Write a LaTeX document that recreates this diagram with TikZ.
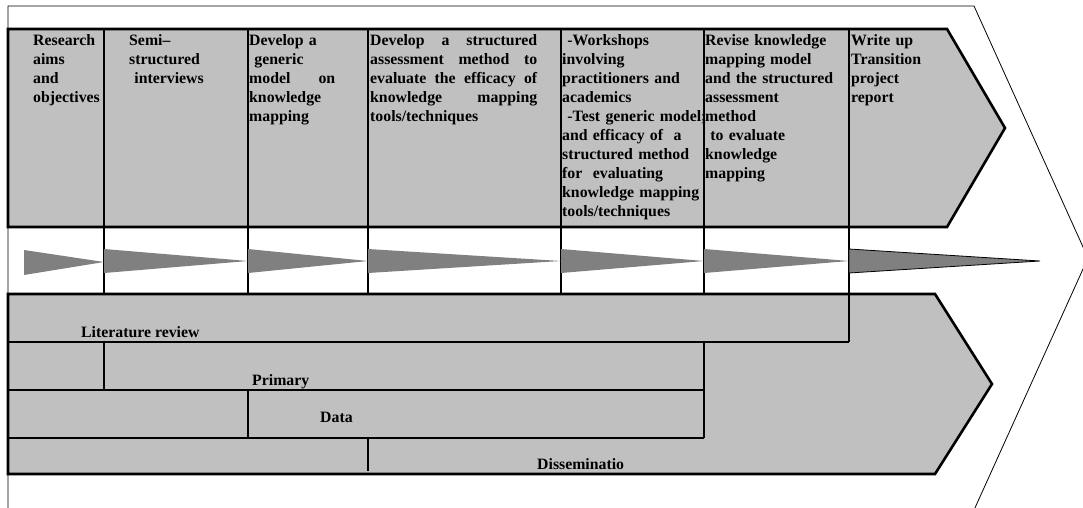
\documentclass[tikz,border=0pt]{standalone}
\usepackage{fontspec}
\setmainfont{Liberation Serif}
\definecolor{boxgray}{HTML}{C0C0C0}
\definecolor{wedgegray}{HTML}{808080}
\newcommand{\jline}[2]{\leavevmode\hbox to #1{#2}}
\tikzset{
	band/.style={fill=boxgray, draw=black, line width=2.6pt, line join=miter},
	divider/.style={draw=black, line width=1.5pt},
	rowline/.style={draw=black, line width=1.4pt},
	wedge/.style={fill=wedgegray},
	cell/.style={anchor=base west, inner sep=0pt, align=left,
		font=\fontsize{15.8}{19}\selectfont\bfseries},
}

\begin{document}
\begin{tikzpicture}[x=1pt, y=-1pt]
	\path[use as bounding box] (0,0) rectangle (1083,508);
	\clip (0,0) rectangle (1083,508);
	\draw[line width=0.8pt] (8,6) -- (974,6) -- (1088,258) -- (974,510) -- (8,510) -- cycle;

	\path[band] (8,29) -- (947,29) -- (1005,128) -- (947,227) -- (8,227) -- cycle;
	\path[band] (8,294) -- (935,294) -- (992,384) -- (935,474) -- (8,474) -- cycle;

	\foreach \x in {104,248,368,561,704}
		\draw[divider] (\x,29) -- (\x,294);
	\draw[divider] (849,29) -- (849,342);

	\draw[rowline] (8,342) -- (849,342);
	\draw[rowline] (104,342) -- (104,390);
	\draw[rowline] (8,390) -- (704,390);
	\draw[rowline] (704,342) -- (704,438);
	\draw[rowline] (248,390) -- (248,438);
	\draw[rowline] (8,438) -- (704,438);
	\draw[rowline] (368,438) -- (368,471);

	\fill[wedge] (24,250) -- (104,262) -- (24,275) -- cycle;
	\foreach \a/\b in {104/248,248/368,368/561,561/704,704/849}
		\fill[wedge] (\a,249) -- (\b,261) -- (\a,273) -- cycle;
	\filldraw[wedge, draw=black, line width=0.8pt] (849,249) -- (1040,261) -- (849,273) -- cycle;

	\node[cell, text width=71pt] (aims) at (33,46) {Research\\aims\\and\\objectives};
	\node[cell, text width=115pt] (interviews) at (129,46) {Semi–\\structured\\~interviews};
	\node[cell, text width=100pt] (model) at (249,46)
		{Develop a\\~generic\\\jline{86pt}{model\hfill on}\\knowledge\\mapping};
	\node[cell, text width=180pt] (method) at (370,46)
		{\jline{167pt}{Develop\hfill a\hfill structured}\\
		\jline{167pt}{assessment\hfill method\hfill to}\\
		\jline{167pt}{evaluate\hfill the\hfill efficacy\hfill of}\\
		\jline{167pt}{knowledge\hfill mapping}\\tools/techniques};
	\node[cell, text width=160pt] (workshops) at (562,46)
		{~-Workshops\\involving\\practitioners and\\academics\\~-Test generic model;\\
		and efficacy of~~a\\structured method\\for~~evaluating\\knowledge mapping\\tools/techniques};
	\node[cell, text width=142pt] (revise) at (705,46)
		{Revise knowledge\\mapping model\\and the structured\\assessment\\method\\~to evaluate\\knowledge\\mapping};
	\node[cell, text width=96pt] (report) at (851,46) {Write up\\Transition\\project\\report};

	\node[cell] (litrev) at (81,337) {Literature review};
	\node[cell] (primary) at (252,385) {Primary};
	\node[cell] (data) at (320,422) {Data};
	\node[cell] (dissem) at (537,469) {Disseminatio};
\end{tikzpicture}
\end{document}
